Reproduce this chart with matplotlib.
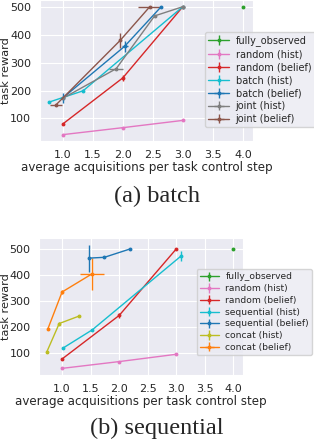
import matplotlib
matplotlib.use("Agg")
import matplotlib.pyplot as plt
import seaborn as sns

sns.set_style("darkgrid")
plt.rcParams['font.family'] = ['DejaVu Sans']

# ---- (a) batch ----
fo_x = [4.0]
fo_y = [500]

a_rand_hist_x = [1.0, 2.0, 3.0]
a_rand_hist_y = [42, 67, 93]
a_rand_bel_x = [1.0, 2.0, 3.0]
a_rand_bel_y = [80, 245, 500]
a_rand_bel_yerr = [3, 10, 3]
a_batch_hist_x = [0.78, 1.34, 3.0]
a_batch_hist_y = [159, 199, 500]
a_batch_hist_yerr = [3, 5, 3]
a_batch_bel_x = [1.0, 2.03, 2.64]
a_batch_bel_y = [173, 358, 500]
a_batch_bel_xerr = [0.02, 0.05, 0.0]
a_batch_bel_yerr = [18, 19, 0]
a_joint_hist_x = [1.0, 1.89, 2.53, 3.0]
a_joint_hist_y = [172, 278, 467, 500]
a_joint_hist_xerr = [0.0, 0.12, 0.0, 0.0]
a_joint_hist_yerr = [0, 4, 0, 0]
a_joint_bel_x = [0.89, 1.96, 2.45]
a_joint_bel_y = [149, 380, 500]
a_joint_bel_xerr = [0.1, 0.0, 0.19]
a_joint_bel_yerr = [4, 27, 0]

# ---- (b) sequential ----
b_rand_hist_x = [1.0, 2.0, 3.0]
b_rand_hist_y = [42, 68, 96]
b_rand_bel_x = [1.0, 2.0, 3.0]
b_rand_bel_y = [78, 245, 500]
b_rand_bel_yerr = [3, 10, 3]
b_seq_hist_x = [1.01, 1.53, 3.09]
b_seq_hist_y = [119, 190, 474]
b_seq_hist_yerr = [3, 3, 20]
b_seq_bel_x = [1.47, 1.74, 2.19]
b_seq_bel_y = [465, 468, 500]
b_seq_bel_yerr = [52, 3, 0]
b_cat_hist_x = [0.73, 0.95, 1.29]
b_cat_hist_y = [104, 214, 242]
b_cat_hist_yerr = [3, 6, 3]
b_cat_bel_x = [0.75, 1.0, 1.52]
b_cat_bel_y = [193, 335, 404]
b_cat_bel_xerr = [0.0, 0.0, 0.21]
b_cat_bel_yerr = [3, 8, 60]

xticks = [1.0, 1.5, 2.0, 2.5, 3.0, 3.5, 4.0]
yticks = [100, 200, 300, 400, 500]

fig = plt.figure(figsize=(3.14, 4.4), dpi=100)
ax1 = fig.add_axes([0.127, 0.680, 0.679, 0.320])
ax2 = fig.add_axes([0.125, 0.148, 0.648, 0.311])

kw = dict(lw=1, ms=1.8, marker='o', elinewidth=1, capsize=0)


def eb(ax, x, y, c, label, xerr=None, yerr=None):
    ax.errorbar(x, y, xerr=xerr, yerr=yerr if yerr is not None else [0] * len(y),
                color=c, label=label, **kw)


eb(ax1, fo_x, fo_y, 'tab:green', 'fully_observed')
eb(ax1, a_rand_hist_x, a_rand_hist_y, 'tab:pink', 'random (hist)')
eb(ax1, a_rand_bel_x, a_rand_bel_y, 'tab:red', 'random (belief)', yerr=a_rand_bel_yerr)
eb(ax1, a_batch_hist_x, a_batch_hist_y, 'tab:cyan', 'batch (hist)', yerr=a_batch_hist_yerr)
eb(ax1, a_batch_bel_x, a_batch_bel_y, 'tab:blue', 'batch (belief)',
   xerr=a_batch_bel_xerr, yerr=a_batch_bel_yerr)
eb(ax1, a_joint_hist_x, a_joint_hist_y, 'tab:gray', 'joint (hist)',
   xerr=a_joint_hist_xerr, yerr=a_joint_hist_yerr)
eb(ax1, a_joint_bel_x, a_joint_bel_y, 'tab:brown', 'joint (belief)',
   xerr=a_joint_bel_xerr, yerr=a_joint_bel_yerr)

eb(ax2, fo_x, fo_y, 'tab:green', 'fully_observed')
eb(ax2, b_rand_hist_x, b_rand_hist_y, 'tab:pink', 'random (hist)')
eb(ax2, b_rand_bel_x, b_rand_bel_y, 'tab:red', 'random (belief)', yerr=b_rand_bel_yerr)
eb(ax2, b_seq_hist_x, b_seq_hist_y, 'tab:cyan', 'sequential (hist)', yerr=b_seq_hist_yerr)
eb(ax2, b_seq_bel_x, b_seq_bel_y, 'tab:blue', 'sequential (belief)', yerr=b_seq_bel_yerr)
eb(ax2, b_cat_hist_x, b_cat_hist_y, 'tab:olive', 'concat (hist)', yerr=b_cat_hist_yerr)
eb(ax2, b_cat_bel_x, b_cat_bel_y, 'tab:orange', 'concat (belief)',
   xerr=b_cat_bel_xerr, yerr=b_cat_bel_yerr)

ax1.set_xlim(0.62, 4.17)
ax1.set_ylim(20, 524)
ax2.set_xlim(0.6, 4.165)
ax2.set_ylim(17, 542)

for ax in (ax1, ax2):
    ax.set_xticks(xticks)
    ax.set_yticks(yticks)
    ax.tick_params(labelsize=8, pad=2.8, colors='.15')
    ax.set_xlabel('average acquisitions per task control step', fontsize=8.6,
                  labelpad=1, color='.15')
    ax.set_ylabel('task reward', fontsize=8.2, color='.15')

# y labels sit right at the left edge like the original
ax1.yaxis.set_label_coords(-28.5 / 213, 0.5)
ax2.yaxis.set_label_coords(-27.8 / 203.5, 0.5)

ax1.legend(loc='upper left', bbox_to_anchor=(0.653, 0.927),
           bbox_transform=fig.transFigure, fontsize=7, handlelength=2.1,
           handletextpad=0.7, labelspacing=0.3, borderpad=0.35,
           borderaxespad=0, frameon=True)
ax2.legend(loc='upper left', bbox_to_anchor=(0.626, 0.388),
           bbox_transform=fig.transFigure, fontsize=6.6, handlelength=2.1,
           handletextpad=0.7, labelspacing=0.3, borderpad=0.35,
           borderaxespad=0, frameon=True)

fig.text(0.5, 0.5416, '(a) batch', family='Liberation Serif', fontsize=17.5,
         ha='center', va='baseline')
fig.text(0.5, 0.0136, '(b) sequential', family='Liberation Serif', fontsize=17.5,
         ha='center', va='baseline')

fig.savefig('out.png', dpi=100)
